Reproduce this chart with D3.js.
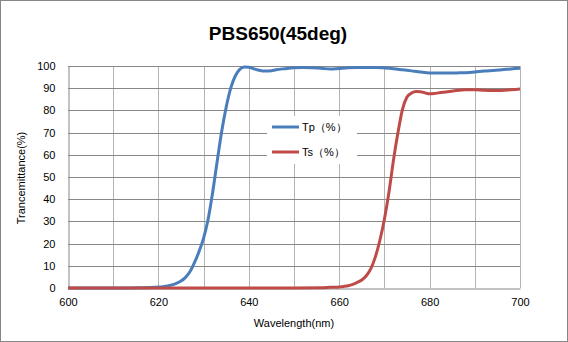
<!DOCTYPE html>
<html>
<head>
<meta charset="utf-8">
<script src="https://cdn.jsdelivr.net/npm/d3@7"></script>
<style>
  html, body { margin: 0; padding: 0; background: #fff; }
  svg { display: block; }
  text { font-family: "Liberation Sans", Arial, sans-serif; fill: #000; }
</style>
</head>
<body>
<script>
// ---- data ----
const title = "PBS650(45deg)";
const xTitle = "Wavelength(nm)";
const yTitle = "Trancemittance(%)";
const seriesNames = ["Tp（%）", "Ts（%）"];
const seriesColors = ["#4a7ebb", "#be4b48"];

const tpWave = [600,610,614,616,618,620,621,622,623,624,625,626,627,628,629,630,631,632,633,634,635,636,637,638,639,640,641,642,643,644,645,646,648,650,652,654,656,658,660,662,664,666,668,670,672,674,676,678,680,682,684,686,688,690,692,694,696,698,700];
const tpValues = [0,0,0,0.1,0.2,0.4,0.6,0.9,1.4,2.1,3.1,4.8,7.4,11.5,16.5,22.5,31,43,57,70.5,81.5,90,95.5,98.5,99.5,99.4,98.8,98.2,97.8,97.7,97.9,98.3,98.8,99.2,99.3,99.2,99.0,98.6,98.9,99.2,99.3,99.3,99.3,99.1,98.8,98.3,97.8,97.3,96.9,96.8,96.8,96.9,97.0,97.3,97.7,98.0,98.3,98.7,99.0];

const tsWave = [600,650,656,658,660,661,662,663,664,665,666,667,668,669,670,671,672,673,674,675,676,677,678,679,680,681,682,684,686,688,690,692,694,696,698,700];
const tsValues = [0,0,0.1,0.3,0.5,0.7,1.0,1.6,2.5,3.6,5.5,8.7,14,21.5,31,43,57.5,70,80.5,86,87.8,88.5,88.4,87.9,87.5,87.6,87.9,88.4,89.0,89.3,89.3,89.1,89.0,89.0,89.3,89.6];

const xTicks = [600,620,640,660,680,700];
const xGrid = [610,620,630,640,650,660,670,680,690,700];
const yTicks = [0,10,20,30,40,50,60,70,80,90,100];

// ---- layout ----
const W = 568, H = 342;
const plot = {left: 68, right: 520, top: 66, bottom: 288};

const svg = d3.select("body").append("svg").attr("width", W).attr("height", H);

svg.append("rect").attr("x", 0.5).attr("y", 0.5).attr("width", W - 1).attr("height", H - 1)
  .attr("fill", "#fff").attr("stroke", "#868686");

const x = d3.scaleLinear().domain([600, 700]).range([plot.left, plot.right]);
const y = d3.scaleLinear().domain([0, 100]).range([plot.bottom, plot.top]);

// gridlines
const g = svg.append("g");
g.selectAll("line.vg").data(xGrid).join("line").attr("class", "vg")
  .attr("x1", d => Math.round(x(d)) + 0.5).attr("x2", d => Math.round(x(d)) + 0.5)
  .attr("y1", plot.top).attr("y2", plot.bottom)
  .attr("stroke", "#b3b3b3").attr("stroke-width", 1);
g.selectAll("line.hg").data(yTicks.filter(d => d > 0)).join("line").attr("class", "hg")
  .attr("x1", plot.left).attr("x2", plot.right)
  .attr("y1", d => Math.round(y(d)) + 0.5).attr("y2", d => Math.round(y(d)) + 0.5)
  .attr("stroke", "#878787").attr("stroke-width", 1);

// axes
const xAxis = svg.append("g").attr("transform", `translate(0,${Math.round(plot.bottom) + 0.5})`)
  .call(d3.axisBottom(x).tickValues(xTicks).tickSize(0).tickPadding(10).tickFormat(d3.format("d")));
xAxis.select(".domain").attr("stroke", "#878787");
xAxis.selectAll("text").attr("font-size", "11px").attr("font-family", "Liberation Sans, Arial, sans-serif").attr("fill", "#000");

const yAxis = svg.append("g").attr("transform", `translate(${Math.round(plot.left) + 0.5},0)`)
  .call(d3.axisLeft(y).tickValues(yTicks).tickSize(0).tickPadding(13).tickFormat(d3.format("d")));
yAxis.select(".domain").attr("stroke", "#878787");
yAxis.selectAll("text").attr("font-size", "11px").attr("font-family", "Liberation Sans, Arial, sans-serif").attr("fill", "#000");

// lines
const line = d3.line().x(d => x(d[0])).y(d => y(d[1])).curve(d3.curveMonotoneX);
const tpData = tpWave.map((w, i) => [w, tpValues[i]]);
const tsData = tsWave.map((w, i) => [w, tsValues[i]]);

svg.append("path").datum(tpData).attr("d", line).attr("fill", "none")
  .attr("stroke", seriesColors[0]).attr("stroke-width", 3).attr("stroke-linejoin", "round");
svg.append("path").datum(tsData).attr("d", line).attr("fill", "none")
  .attr("stroke", seriesColors[1]).attr("stroke-width", 3).attr("stroke-linejoin", "round");

// legend
const leg = svg.append("g");
leg.append("rect").attr("x", 267).attr("y", 116).attr("width", 90).attr("height", 48).attr("fill", "#fff");
[127, 152].forEach((ly, i) => {
  leg.append("line").attr("x1", 272).attr("x2", 299).attr("y1", ly).attr("y2", ly)
    .attr("stroke", seriesColors[i]).attr("stroke-width", 3);
  leg.append("text").attr("x", 302).attr("y", ly).attr("dy", "0.35em")
    .attr("font-size", "11px").text(seriesNames[i]);
});

// titles
svg.append("text").attr("x", 278).attr("y", 40).attr("text-anchor", "middle")
  .attr("font-size", "19px").attr("font-weight", "bold").text(title);
svg.append("text").attr("x", 294).attr("y", 327).attr("text-anchor", "middle")
  .attr("font-size", "11px").text(xTitle);
svg.append("text").attr("transform", "translate(25,178) rotate(-90)").attr("text-anchor", "middle")
  .attr("font-size", "11px").text(yTitle);
</script>
</body>
</html>
